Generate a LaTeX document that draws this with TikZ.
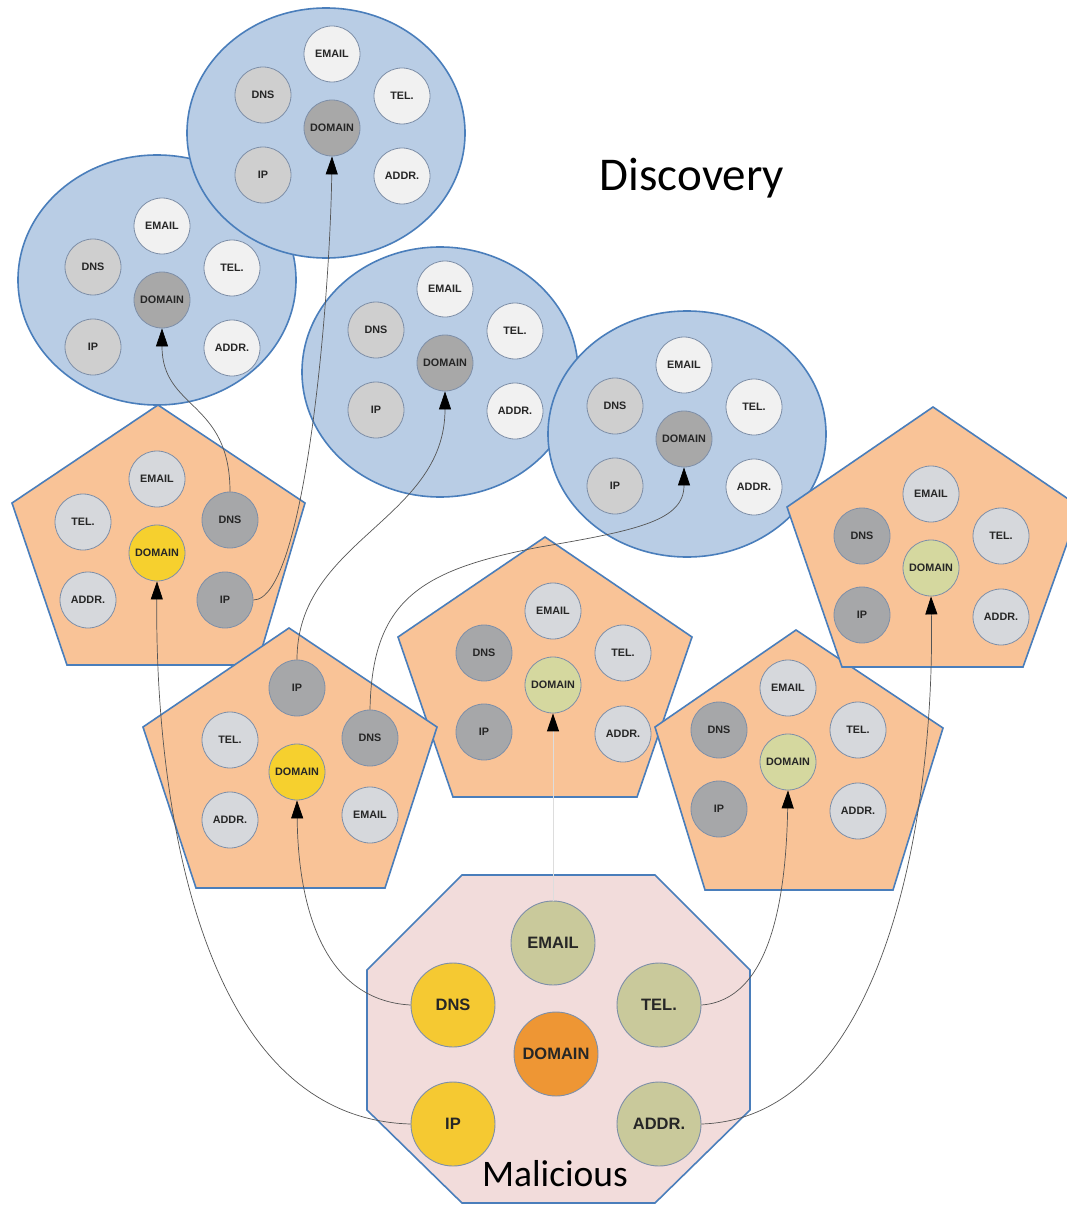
\documentclass[tikz,border=0pt]{standalone}
\usepackage{fontspec}
\setmainfont{Carlito}
\newfontfamily\lab{Liberation Sans}
\usetikzlibrary{arrows.meta}
\definecolor{ellfill}{HTML}{B9CDE5}
\definecolor{shapeedge}{HTML}{4A7EBB}
\definecolor{pentfill}{HTML}{F9C397}
\definecolor{octfill}{HTML}{F2DCDB}
\definecolor{cedge}{HTML}{7E8FA8}
\definecolor{ewhite}{HTML}{F1F1F1}
\definecolor{egray}{HTML}{CFCFCF}
\definecolor{edark}{HTML}{A8A8A8}
\definecolor{plight}{HTML}{D6D8DC}
\definecolor{pdark}{HTML}{A6A7A9}
\definecolor{pyel}{HTML}{F6D02E}
\definecolor{polive}{HTML}{D5D89F}
\definecolor{oolive}{HTML}{C9C99B}
\definecolor{oyel}{HTML}{F5C932}
\definecolor{oorange}{HTML}{EE9634}
\definecolor{wire}{HTML}{555555}
\definecolor{wirelight}{HTML}{DDDDDD}
\tikzset{
  ellshape/.style={fill=ellfill, draw=shapeedge, line width=1.6pt},
  pentshape/.style={fill=pentfill, draw=shapeedge, line width=1.6pt},
  octshape/.style={fill=octfill, draw=shapeedge, line width=1.6pt},
  sc/.style={circle, minimum size=56pt, inner sep=0pt, draw=cedge, line width=0.8pt,
    font=\lab\bfseries\fontsize{10.8}{10.8}\selectfont, text=black!85},
  lc/.style={circle, minimum size=84pt, inner sep=0pt, draw=cedge, line width=0.9pt,
    font=\lab\bfseries\fontsize{16.5}{16.5}\selectfont, text=black!85},
  conn/.style={draw=wire, line width=0.7pt, -{Triangle[width=12pt,length=18pt,color=black]}},
  connlight/.style={draw=wirelight, line width=1pt, -{Triangle[width=12pt,length=18pt,color=black]}},
  caption/.style={font=\fontsize{47}{47}\selectfont, text=black}
}
\newcommand\bluegroup[3]{%
  \begin{scope}[shift={(#2,#3)}]
    \node[sc,fill=ewhite] (#1email) at (0,-74) {EMAIL};
    \node[sc,fill=egray]  (#1dns)   at (-69,-33) {DNS};
    \node[sc,fill=ewhite] (#1tel)   at (70,-32) {TEL.};
    \node[sc,fill=edark]  (#1dom)   at (0,0) {DOMAIN};
    \node[sc,fill=egray]  (#1ip)    at (-69,47) {IP};
    \node[sc,fill=ewhite] (#1addr)  at (70,48) {ADDR.};
  \end{scope}}
\newcommand\pentgroup[4]{%
  \begin{scope}[shift={(#2,#3)}]
    \node[sc,fill=plight] (#1email) at (0,-74) {EMAIL};
    \node[sc,fill=pdark]  (#1dns)   at (-69,-32) {DNS};
    \node[sc,fill=plight] (#1tel)   at (70,-32) {TEL.};
    \node[sc,fill=#4]     (#1dom)   at (0,0) {DOMAIN};
    \node[sc,fill=pdark]  (#1ip)    at (-69,47) {IP};
    \node[sc,fill=plight] (#1addr)  at (70,49) {ADDR.};
  \end{scope}}
\begin{document}
\begin{tikzpicture}[x=1pt,y=-1pt]
\useasboundingbox[fill=white] (0,0) rectangle (1066,1206);

% blue ellipses (discovery)
\draw[ellshape] (157,280) ellipse [x radius=139pt, y radius=125pt];
\bluegroup{etwo}{162}{300}
\draw[ellshape] (326,133) ellipse [x radius=139pt, y radius=125pt];
\bluegroup{eone}{332}{128}
\draw[ellshape] (440,372) ellipse [x radius=138pt, y radius=125pt];
\bluegroup{ethree}{445}{363}
\draw[ellshape] (687,434) ellipse [x radius=139pt, y radius=123pt];
\bluegroup{efour}{684}{439}

% pentagon 1
\draw[pentshape] (158,405) -- (305,503) -- (257,665) -- (67,665) -- (12,503) -- cycle;
\node[sc,fill=plight] (ponemail) at (157,479) {EMAIL};
\node[sc,fill=plight] (pontel)   at (83,522) {TEL.};
\node[sc,fill=pdark]  (pondns)   at (230,520) {DNS};
\node[sc,fill=pyel]   (pondom)   at (157,553) {DOMAIN};
\node[sc,fill=plight] (ponaddr)  at (88,600) {ADDR.};
\node[sc,fill=pdark]  (ponip)    at (225,600) {IP};

% pentagon 3
\draw[pentshape] (545,537) -- (692,637) -- (637,797) -- (453,797) -- (398,637) -- cycle;
\pentgroup{pthree}{553}{685}{polive}

% pentagon 2
\draw[pentshape] (289,628) -- (437,727) -- (385,888) -- (196,888) -- (143,727) -- cycle;
\node[sc,fill=pdark]  (ptwip)    at (297,688) {IP};
\node[sc,fill=plight] (ptwtel)   at (230,740) {TEL.};
\node[sc,fill=pdark]  (ptwdns)   at (370,738) {DNS};
\node[sc,fill=pyel]   (ptwdom)   at (297,772) {DOMAIN};
\node[sc,fill=plight] (ptwaddr)  at (230,820) {ADDR.};
\node[sc,fill=plight] (ptwemail) at (370,815) {EMAIL};

% pentagon 4
\draw[pentshape] (796,630) -- (943,728) -- (893,890) -- (705,890) -- (655,727) -- cycle;
\pentgroup{pfour}{788}{762}{polive}

% pentagon 5
\draw[pentshape] (933,407) -- (1080,507) -- (1023,667) -- (842,667) -- (787,507) -- cycle;
\pentgroup{pfive}{931}{568}{polive}

% octagon (malicious)
\draw[octshape] (462,875) -- (655,875) -- (750,970) -- (750,1110) -- (655,1203)
  -- (462,1203) -- (367,1110) -- (367,970) -- cycle;
\node[lc,fill=oolive]  (oemail) at (553,943) {EMAIL};
\node[lc,fill=oyel]    (odns)   at (453,1005) {DNS};
\node[lc,fill=oolive]  (otel)   at (659,1005) {TEL.};
\node[lc,fill=oorange] (odom)   at (556,1054) {DOMAIN};
\node[lc,fill=oyel]    (oip)    at (453,1124) {IP};
\node[lc,fill=oolive]  (oaddr)  at (659,1124) {ADDR.};

% captions
\node[caption] (disc) at (692,178) {Discovery};
\node[caption, font=\fontsize{37.5}{37.5}\selectfont] (mal) at (555,1174) {Malicious};

% connectors
\draw[conn] (oip.west) .. controls (185,1118) and (155,760) .. (pondom.south);
\draw[conn] (odns.west) .. controls (320,1000) and (298,900) .. (ptwdom.south);
\draw[connlight] (oemail.north) -- (pthreedom.south);
\draw[conn] (otel.east) .. controls (770,1000) and (786,900) .. (pfourdom.south);
\draw[conn] (oaddr.east) .. controls (890,1118) and (935,800) .. (pfivedom.south);
\draw[conn] (pondns.north) .. controls (230,400) and (162,410) .. (etwodom.south);
\draw[conn] (ponip.east) .. controls (305,600) and (330,300) .. (eonedom.south);
\draw[conn] (ptwip.north) .. controls (297,540) and (445,520) .. (ethreedom.south);
\draw[conn] (ptwdns.north) .. controls (372,600) and (420,570) .. (540,547)
  .. controls (640,530) and (684,520) .. (efourdom.south);
\end{tikzpicture}
\end{document}
